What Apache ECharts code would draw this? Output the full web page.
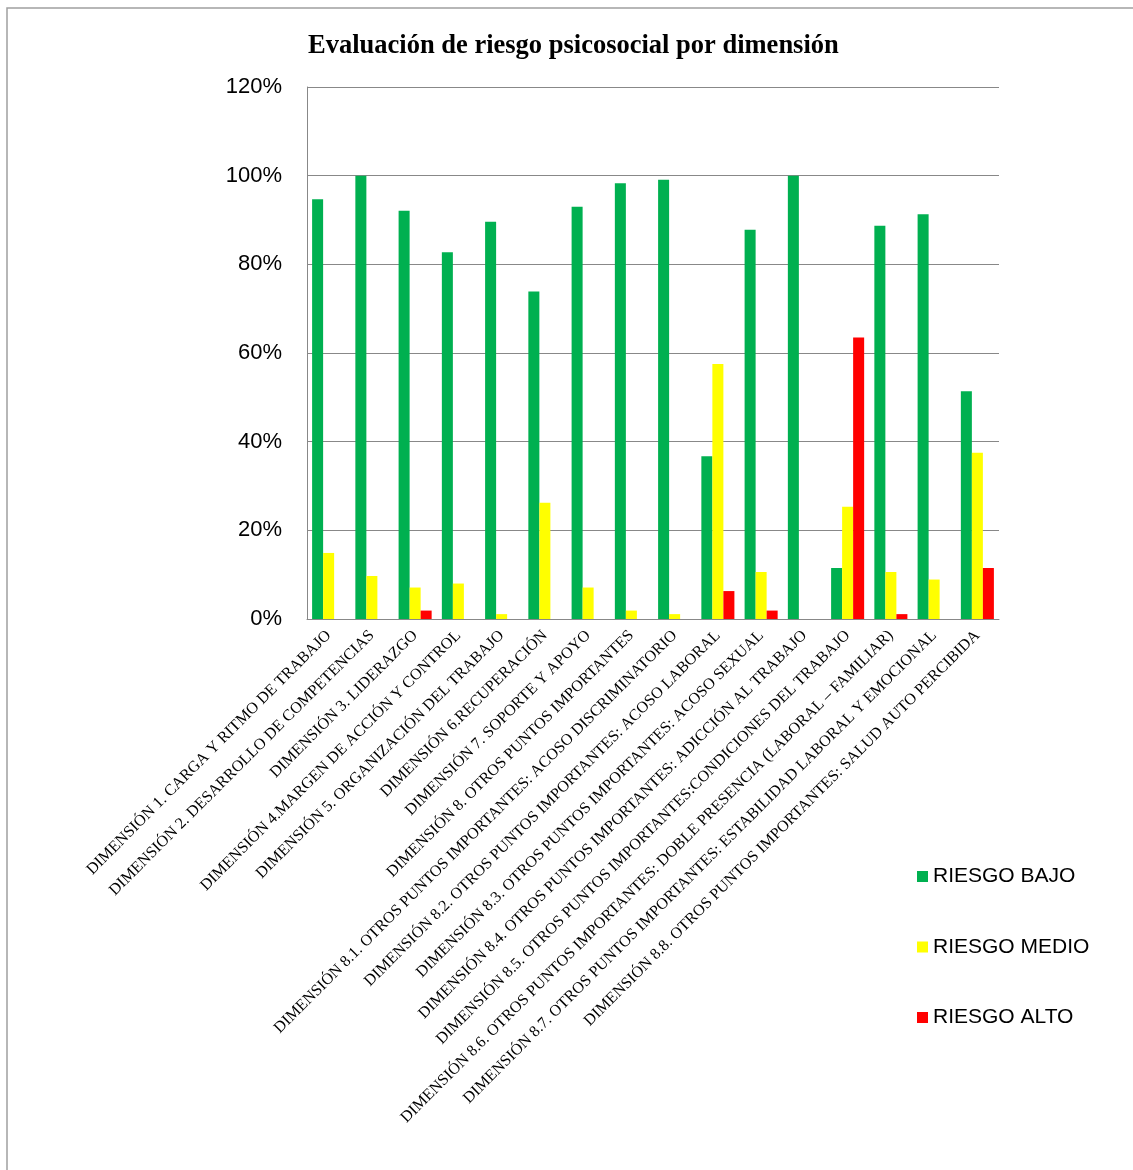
<!DOCTYPE html>
<html lang="es">
<head>
  <meta charset="UTF-8">
  <title>Evaluación de riesgo psicosocial por dimensión</title>
  <script src="https://cdn.jsdelivr.net/npm/echarts@6/dist/echarts.min.js"></script>
  <style>
    html, body { margin: 0; padding: 0; background: #fff; }
    #chart { width: 1133px; height: 1170px; }
  </style>
</head>
<body>
  <div id="chart"></div>
  <script>
    // dimensiones evaluadas
    var categorias = [
      'DIMENSIÓN 1. CARGA Y RITMO DE TRABAJO',
      'DIMENSIÓN 2. DESARROLLO DE COMPETENCIAS',
      'DIMENSIÓN 3. LIDERAZGO',
      'DIMENSIÓN 4.MARGEN DE ACCIÓN Y CONTROL',
      'DIMENSIÓN 5. ORGANIZACIÓN DEL TRABAJO',
      'DIMENSIÓN 6.RECUPERACIÓN',
      'DIMENSIÓN 7. SOPORTE Y APOYO',
      'DIMENSIÓN 8. OTROS PUNTOS IMPORTANTES',
      'DIMENSIÓN 8.1. OTROS PUNTOS IMPORTANTES: ACOSO DISCRIMINATORIO',
      'DIMENSIÓN 8.2. OTROS PUNTOS IMPORTANTES: ACOSO LABORAL',
      'DIMENSIÓN 8.3. OTROS PUNTOS IMPORTANTES: ACOSO SEXUAL',
      'DIMENSIÓN 8.4. OTROS PUNTOS IMPORTANTES: ADICCIÓN AL TRABAJO',
      'DIMENSIÓN 8.5. OTROS PUNTOS IMPORTANTES:CONDICIONES DEL TRABAJO',
      'DIMENSIÓN 8.6. OTROS PUNTOS IMPORTANTES: DOBLE PRESENCIA (LABORAL – FAMILIAR)',
      'DIMENSIÓN 8.7. OTROS PUNTOS IMPORTANTES: ESTABILIDAD LABORAL Y EMOCIONAL',
      'DIMENSIÓN 8.8. OTROS PUNTOS IMPORTANTES: SALUD AUTO PERCIBIDA'
    ];
    // porcentajes
    var riesgoBajo  = [94.7, 100, 92.1, 82.7, 89.6, 73.9, 93.0, 98.3, 99.1, 36.7, 87.8, 100, 11.5, 88.7, 91.3, 51.4];
    var riesgoMedio = [14.9, 9.7, 7.1, 8.0, 1.1, 26.2, 7.1, 1.9, 1.1, 57.5, 10.6, 0, 25.3, 10.6, 8.9, 37.5];
    var riesgoAlto  = [0, 0, 1.9, 0, 0, 0, 0, 0, 0, 6.3, 1.9, 0, 63.5, 1.1, 0, 11.5];

    var colores = ['#00B050', '#FFFF00', '#FF0000'];

    var chart = echarts.init(document.getElementById('chart'));
    var option = {
      backgroundColor: '#fff',
      animation: false,
      color: colores,
      title: {
        text: 'Evaluación de riesgo psicosocial por dimensión',
        left: 308,
        top: 33,
        padding: 0,
        textStyle: {
          fontFamily: 'Liberation Serif',
          fontWeight: 'bold',
          fontSize: 26.5,
          color: '#000'
        }
      },
      legend: {
        orient: 'vertical',
        left: 917,
        top: 866,
        padding: 0,
        itemWidth: 11,
        itemHeight: 11,
        itemGap: 49.5,
        icon: 'rect',
        textStyle: {
          fontFamily: 'Liberation Sans',
          fontSize: 21,
          color: '#000'
        },
        data: ['RIESGO BAJO', 'RIESGO MEDIO', 'RIESGO ALTO']
      },
      graphic: [{
        type: 'rect',
        shape: { x: 7, y: 8, width: 1140, height: 1180 },
        style: { fill: 'none', stroke: '#a0a0a0', lineWidth: 1.5 },
        silent: true
      }],
      grid: {
        left: 307,
        right: 134,
        top: 87,
        bottom: 551
      },
      xAxis: {
        type: 'category',
        data: categorias,
        axisLine: { lineStyle: { color: '#888', width: 1 } },
        axisTick: { show: false },
        axisLabel: {
          interval: 0,
          rotate: 45,
          margin: 14,
          fontFamily: 'Liberation Serif',
          fontSize: 16,
          color: '#000'
        }
      },
      yAxis: {
        type: 'value',
        min: 0,
        max: 120,
        interval: 20,
        axisLine: { show: true, lineStyle: { color: '#888', width: 1 } },
        axisTick: { show: false },
        splitLine: { lineStyle: { color: '#888', width: 1 } },
        axisLabel: {
          formatter: '{value}%',
          margin: 25,
          fontFamily: 'Liberation Sans',
          fontSize: 22,
          color: '#000',
          padding: [3, 0, 0, 0]
        }
      },
      series: [
        { name: 'RIESGO BAJO', type: 'bar', data: riesgoBajo, barGap: '0%', barCategoryGap: '23.6%' },
        { name: 'RIESGO MEDIO', type: 'bar', data: riesgoMedio, barGap: '0%', barCategoryGap: '23.6%' },
        { name: 'RIESGO ALTO', type: 'bar', data: riesgoAlto, barGap: '0%', barCategoryGap: '23.6%' }
      ]
    };
    chart.setOption(option);
  </script>
</body>
</html>
